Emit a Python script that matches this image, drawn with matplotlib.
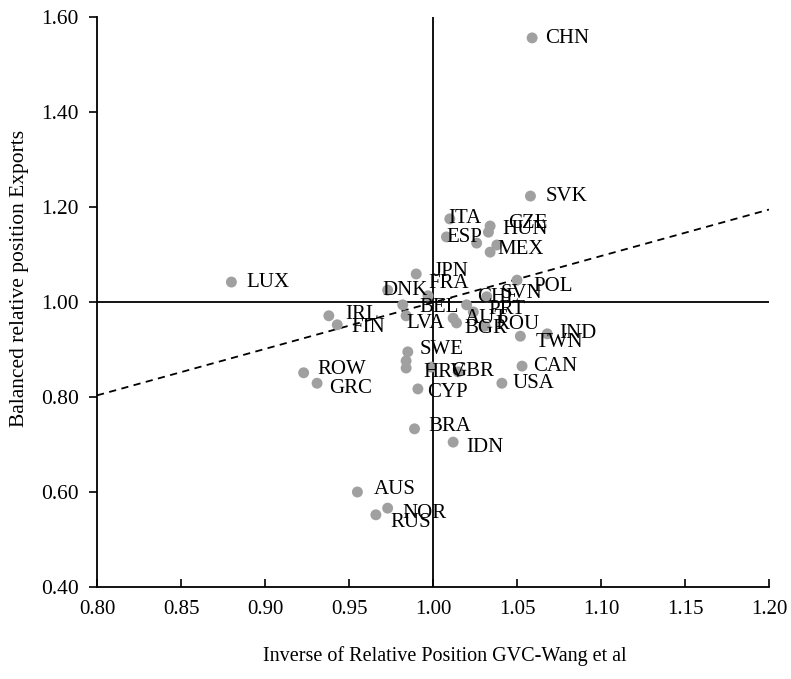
import matplotlib
matplotlib.use("Agg")
import matplotlib.pyplot as plt
import numpy as np

plt.rcParams['font.family'] = ['Liberation Serif', 'DejaVu Serif']

# Country codes ('' = point without a visible label)
countries = ['CHN', 'SVK', 'ITA', 'CZE', 'HUN', 'ESP', '', 'MEX', '',
             'JPN', 'LUX', 'POL', 'DNK', 'FRA', 'BEL', 'LVA', 'IRL', 'FIN',
             'CHE', 'SVN', 'PRT', 'AUT', 'BGR', 'ROU', 'TWN', 'IND', 'CAN',
             'USA', 'SWE', '', 'HRV', '', 'GBR', 'CYP', 'BRA', 'IDN',
             'ROW', 'GRC', 'AUS', 'NOR', 'RUS']

# Inverse of relative position GVC (Wang et al)
gvc_inv = [1.059, 1.058, 1.010, 1.034, 1.033, 1.008, 1.026, 1.034, 1.038,
           0.990, 0.880, 1.050, 0.973, 0.997, 0.982, 0.984, 0.938, 0.943,
           1.020, 1.032, 1.024, 1.012, 1.014, 1.031, 1.052, 1.068, 1.053,
           1.041, 0.985, 0.984, 0.984, 0.999, 1.015, 0.991, 0.989, 1.012,
           0.923, 0.931, 0.955, 0.973, 0.966]

# Balanced relative position exports
exports_pos = [1.556, 1.223, 1.175, 1.160, 1.147, 1.137, 1.124, 1.105, 1.120,
               1.059, 1.042, 1.046, 1.025, 1.013, 0.994, 0.971, 0.971, 0.952,
               0.994, 1.011, 0.979, 0.966, 0.956, 0.949, 0.928, 0.933, 0.865,
               0.829, 0.895, 0.876, 0.861, 0.863, 0.853, 0.817, 0.733, 0.705,
               0.851, 0.829, 0.600, 0.566, 0.552]

# Linear trendline (slope, intercept) as shown
trend_slope = 0.978
trend_intercept = 0.021

x_ticks = np.arange(0.80, 1.2001, 0.05)
y_ticks = np.arange(0.40, 1.6001, 0.20)

# label offsets in pixels (dx right, dy down) from the point
label_offsets = {
  'CHN': (13, 1), 'SVK': (15, 0), 'ITA': (-2, 0), 'CZE': (18, -3),
  'HUN': (14, -3), 'ESP': (0, 1), 'MEX': (7, -3), 'JPN': (17, -2),
  'LUX': (15, 0), 'POL': (16, 6), 'DNK': (-5, 0), 'FRA': (0, -12),
  'BEL': (17, 3), 'LVA': (0, 8), 'IRL': (16, -1), 'FIN': (14, 3),
  'CHE': (11, -7), 'SVN': (14, -3), 'PRT': (15, -2), 'AUT': (12, 0),
  'BGR': (8, 6), 'ROU': (10, -2), 'TWN': (15, 6), 'IND': (12, 0),
  'CAN': (11, 0), 'USA': (11, 0), 'SWE': (12, -2), 'HRV': (17, 4),
  'GBR': (-7, 0), 'CYP': (9, 4), 'BRA': (14, -2), 'IDN': (13, 5),
  'ROW': (14, -3), 'GRC': (12, 5), 'AUS': (16, -3), 'NOR': (15, 5),
  'RUS': (14, 8),
}

fig = plt.figure(figsize=(7.91, 6.79), dpi=100)
ax = fig.add_axes([97/791, 1 - 587/679, (769 - 97)/791, (587 - 17)/679])

ax.set_xlim(0.80, 1.20)
ax.set_ylim(0.40, 1.60)

# quadrant lines
ax.axvline(1.0, color='black', lw=1.3, zorder=1)
ax.axhline(1.0, color='black', lw=1.3, zorder=1)

# trendline
xt = np.array([0.80, 1.20])
ax.plot(xt, trend_slope * xt + trend_intercept, color='black', lw=1.3,
        dashes=(4, 3), zorder=2)

ax.scatter(gvc_inv, exports_pos, s=62, color='#a0a0a0', edgecolors='none',
           zorder=3)

for name, xv, yv in zip(countries, gvc_inv, exports_pos):
  if not name:
    continue
  dx, dy = label_offsets.get(name, (14, 0))
  ax.annotate(name, (xv, yv), xytext=(dx, -dy), textcoords='offset pixels',
              ha='left', va='center', fontsize=15, color='black', zorder=4)

ax.set_xticks(x_ticks)
ax.set_yticks(y_ticks)
ax.set_xticklabels(['%.2f' % v for v in x_ticks])
ax.set_yticklabels(['%.2f' % v for v in y_ticks])
ax.tick_params(axis='x', direction='in', length=6, width=1.2, pad=9,
               labelsize=15)
ax.tick_params(axis='y', direction='out', length=6, width=1.2, pad=7,
               labelsize=15.5)

for side in ['top', 'right']:
  ax.spines[side].set_visible(False)
for side in ['left', 'bottom']:
  ax.spines[side].set_linewidth(1.3)

ax.set_xlabel('Inverse of Relative Position GVC-Wang et al', fontsize=14.5)
ax.set_ylabel('Balanced relative position Exports', fontsize=15.5)
ax.xaxis.set_label_coords(0.518, -0.103)
ax.yaxis.set_label_coords(-0.101, 0.542)

plt.savefig('out.png', dpi=100)
